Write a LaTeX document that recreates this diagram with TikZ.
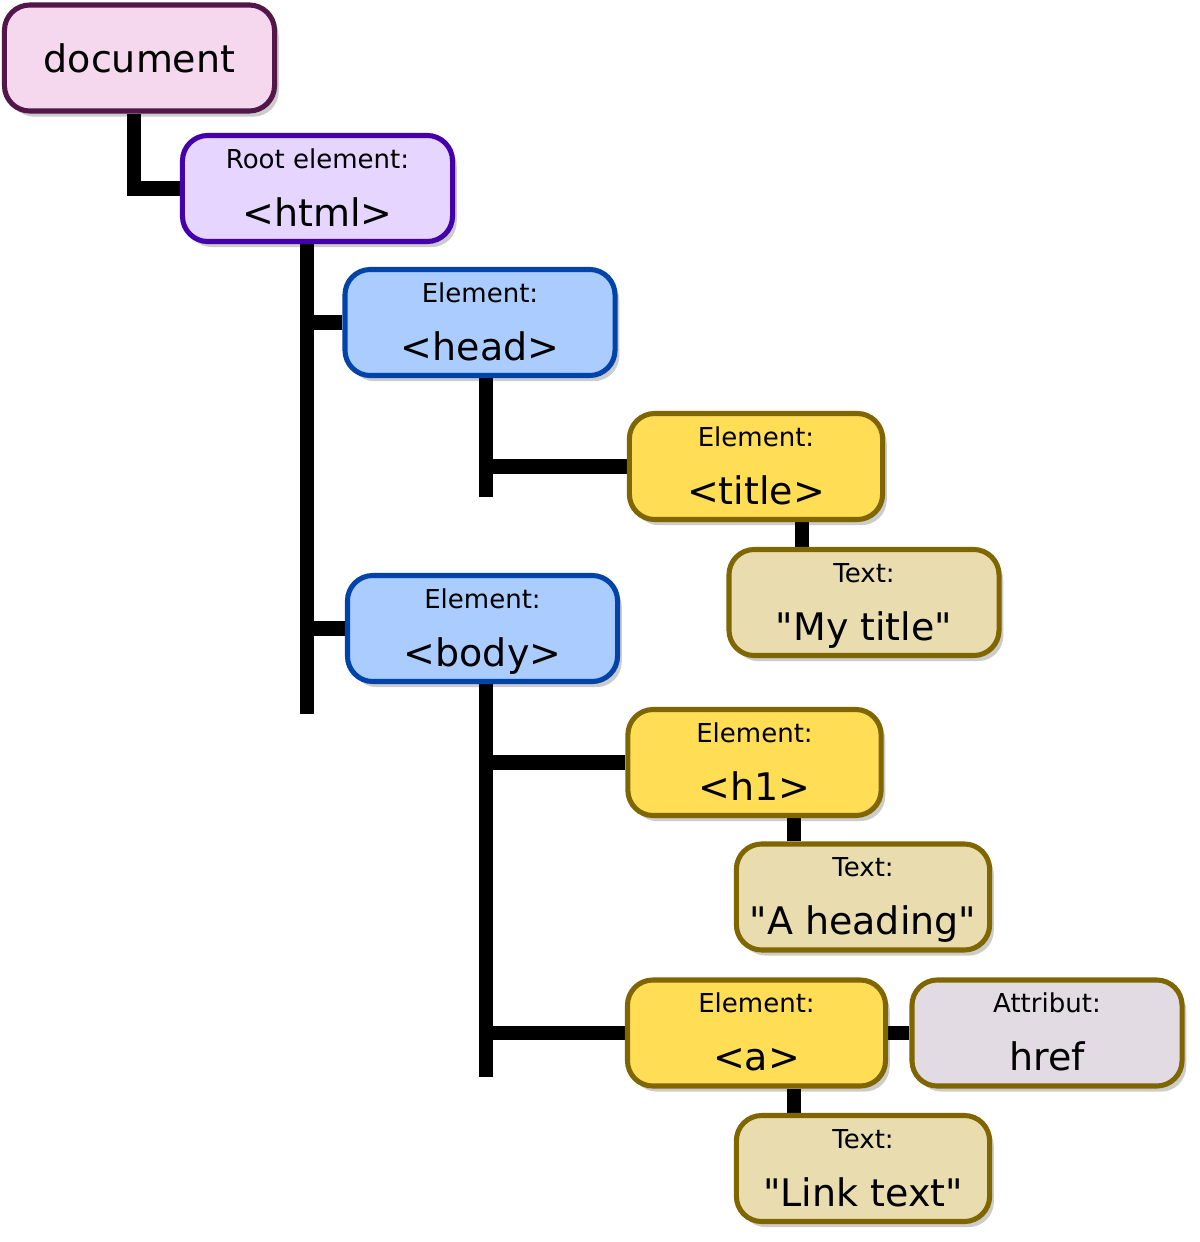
\documentclass[tikz,border=0pt]{standalone}
\usepackage{fontspec}
\setmainfont{DejaVu Sans}
\usetikzlibrary{shadows,backgrounds}
\definecolor{domDocFill}{RGB}{245,215,238}
\definecolor{domDocLine}{RGB}{82,22,72}
\definecolor{domRootFill}{RGB}{229,213,255}
\definecolor{domRootLine}{RGB}{68,0,170}
\definecolor{domElemFill}{RGB}{170,204,255}
\definecolor{domElemLine}{RGB}{0,68,170}
\definecolor{domLeafFill}{RGB}{255,221,85}
\definecolor{domTextFill}{RGB}{233,221,175}
\definecolor{domAttrFill}{RGB}{227,219,227}
\definecolor{domGold}{RGB}{128,102,0}
\newcommand{\lblfont}{\fontsize{18.5}{22}\selectfont}
\newcommand{\tagfont}{\fontsize{27}{32}\selectfont}
\newcommand{\qt}{\textquotedbl}

\begin{document}
\begin{tikzpicture}[
  x=0.025cm, y=-0.025cm,
  domnode/.style={
    draw,
    line width=3.6pt,
    rounded corners=18pt,
    minimum width=6.75cm,
    minimum height=2.65cm,
    inner sep=0pt,
    drop shadow={shadow xshift=3pt,shadow yshift=-4pt,fill=black,opacity=0.2}
  },
  narrow/.style={minimum width=6.33cm},
  lbl/.style={font=\lblfont,anchor=base,inner sep=0pt},
  tag/.style={font=\tagfont,anchor=base,inner sep=0pt},
  branch/.style={line width=10pt,black}
]
  \useasboundingbox (0,0) rectangle (1200,1242);

  % boxes
  \node[domnode,fill=domDocFill,draw=domDocLine,font=\tagfont] (doc) at (139.5,58) {document};
  \node[domnode,fill=domRootFill,draw=domRootLine] (html) at (317.5,188.5) {};
  \node[domnode,fill=domElemFill,draw=domElemLine] (head) at (480,322.5) {};
  \node[domnode,narrow,fill=domLeafFill,draw=domGold] (title) at (756,466.5) {};
  \node[domnode,fill=domTextFill,draw=domGold] (mytitle) at (864,602.5) {};
  \node[domnode,fill=domElemFill,draw=domElemLine] (body) at (482.5,628.5) {};
  \node[domnode,narrow,fill=domLeafFill,draw=domGold] (h1) at (754.5,762.5) {};
  \node[domnode,narrow,fill=domTextFill,draw=domGold] (heading) at (863,897) {};
  \node[domnode,narrow,minimum width=6.45cm,fill=domLeafFill,draw=domGold] (anchor) at (756.5,1033) {};
  \node[domnode,fill=domAttrFill,draw=domGold] (href) at (1047,1033) {};
  \node[domnode,narrow,fill=domTextFill,draw=domGold] (link) at (863,1168.5) {};

  % texts
  \node[lbl] (html-l) at ([yshift=-0.88cm]html.north) {Root element:};
  \node[tag] (html-t) at ([yshift=-2.33cm]html.north) {<html>};
  \node[lbl] (head-l) at ([yshift=-0.88cm]head.north) {Element:};
  \node[tag] (head-t) at ([yshift=-2.33cm]head.north) {<head>};
  \node[lbl] (title-l) at ([yshift=-0.88cm]title.north) {Element:};
  \node[tag] (title-t) at ([yshift=-2.33cm]title.north) {<title>};
  \node[lbl] (mytitle-l) at ([yshift=-0.88cm]mytitle.north) {Text:};
  \node[tag] (mytitle-t) at ([yshift=-2.33cm]mytitle.north) {\qt My title\qt};
  \node[lbl] (body-l) at ([yshift=-0.88cm]body.north) {Element:};
  \node[tag] (body-t) at ([yshift=-2.33cm]body.north) {<body>};
  \node[lbl] (h1-l) at ([yshift=-0.88cm]h1.north) {Element:};
  \node[tag] (h1-t) at ([yshift=-2.33cm]h1.north) {<h1>};
  \node[lbl] (heading-l) at ([yshift=-0.88cm]heading.north) {Text:};
  \node[tag] (heading-t) at ([yshift=-2.33cm]heading.north) {\qt A heading\qt};
  \node[lbl] (anchor-l) at ([yshift=-0.88cm]anchor.north) {Element:};
  \node[tag] (anchor-t) at ([yshift=-2.33cm]anchor.north) {<a>};
  \node[lbl] (href-l) at ([yshift=-0.88cm]href.north) {Attribut:};
  \node[tag] (href-t) at ([yshift=-2.33cm]href.north) {href};
  \node[lbl] (link-l) at ([yshift=-0.88cm]link.north) {Text:};
  \node[tag] (link-t) at ([yshift=-2.33cm]link.north) {\qt Link text\qt};

  % tree lines
  \coordinate (html-end) at (307,714);
  \coordinate (head-end) at (486,497);
  \coordinate (body-end) at (486,1077);
  \begin{scope}[on background layer]
    \draw[branch] ([xshift=-4pt]doc.south) |- (html.west);
    \draw[branch] (html.south -| html-end) -- (html-end);
    \draw[branch] (head.west) -- (head.west -| html-end);
    \draw[branch] (body.west) -- (body.west -| html-end);
    \draw[branch] (head.south -| head-end) -- (head-end);
    \draw[branch] (title.west) -- ([xshift=-5pt]title.west -| head-end);
    \draw[branch] ([xshift=54pt]mytitle.north west) -- ([xshift=54pt]mytitle.north west |- title.south);
    \draw[branch] (body.south -| body-end) -- (body-end);
    \draw[branch] (h1.west) -- ([xshift=-5pt]h1.west -| body-end);
    \draw[branch] (anchor.west) -- ([xshift=-5pt]anchor.west -| body-end);
    \draw[branch] ([xshift=43pt]heading.north west) -- ([xshift=43pt]heading.north west |- h1.south);
    \draw[branch] ([xshift=43pt]link.north west) -- ([xshift=43pt]link.north west |- anchor.south);
    \draw[branch] (anchor.east) -- (href.west);
  \end{scope}
\end{tikzpicture}
\end{document}
